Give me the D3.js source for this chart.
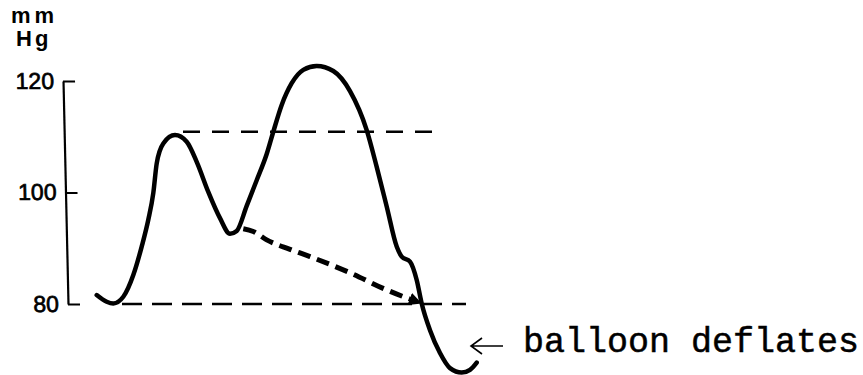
<!DOCTYPE html>
<html>
<head>
<meta charset="utf-8">
<script src="https://cdn.jsdelivr.net/npm/d3@7"></script>
<style>
  body { margin: 0; background: #fff; }
</style>
</head>
<body>
<script>
// data (t = arbitrary time units, p = mm Hg)
const yTicks = [80, 100, 120];

const pulseT = [16.7, 26.7, 33.3, 43.3, 53.3, 61.7, 68.3, 73.3, 76.7, 83.3, 95, 106.7, 116.7, 128.3, 140, 150,
                156.7, 166.7, 176.7, 186.7, 193.3, 201.7, 211.7, 223.3, 236.7, 253.3, 270, 286.7, 296.7, 306.7,
                316.7, 321.7, 330, 336.7, 341.7, 350, 360, 370, 381.7, 390, 396.7];
const pulseP = [81.6, 80.4, 80.1, 81.3, 85.2, 90.3, 95.1, 99.9, 105.2, 108.8, 110.3, 109.1, 105.5, 100.1, 95.4, 92.6,
                93.1, 97.6, 102.2, 106.9, 110.9, 115.7, 119.6, 122.0, 122.7, 121.8, 118.2, 111.2, 104.6, 97.5,
                90.3, 88.5, 87.6, 84.3, 80.1, 75.3, 71.2, 68.5, 67.7, 68.2, 69.5];

// pressure without the balloon (dashed projection)
const deflateT = [163.3, 173.3, 186.7, 210, 230, 270, 307, 337];
const deflateP = [93.5, 93.0, 91.5, 89.8, 88.5, 85.6, 82.5, 80.4];

// horizontal reference levels
const levelP = [110.9, 80];
const levelT0 = [103, 42];
const levelT1 = [352, 386];

const labelText = "balloon deflates";

// canvas
const canvWidth = 863, canvHeight = 375;
const svg = d3.select("body").append("svg")
    .attr("width", canvWidth)
    .attr("height", canvHeight);

const xScale = d3.scaleLinear()
    .domain([0, 400])
    .range([80, 480]);

const yScale = d3.scaleLinear()
    .domain([80, 120])
    .range([304, 81]);

// hand drawn axis leans a little, so skew the group
const yAxis = d3.axisLeft(yScale)
    .tickValues(yTicks)
    .tickSizeInner(-12)
    .tickSizeOuter(0)
    .tickPadding(9);

const axisG = svg.append("g")
    .attr("transform", "translate(61.2,0) skewX(1.28)")
    .call(yAxis);

axisG.select(".domain")
    .attr("stroke", "#000")
    .attr("stroke-width", 2.2);
axisG.selectAll(".tick line")
    .attr("stroke", "#000")
    .attr("stroke-width", 2.2);
axisG.selectAll(".tick text")
    .attr("font-family", "'Liberation Sans', Arial, sans-serif")
    .attr("font-size", "23px")
    .attr("fill", "#000")
    .attr("stroke", "#000")
    .attr("stroke-width", 0.7);

// unit label
svg.append("text")
    .attr("x", 11)
    .attr("y", 23)
    .attr("font-family", "'Liberation Sans', Arial, sans-serif")
    .attr("font-weight", "bold")
    .attr("font-size", "22px")
    .attr("letter-spacing", "4px")
    .text("mm");
svg.append("text")
    .attr("x", 16)
    .attr("y", 46)
    .attr("font-family", "'Liberation Sans', Arial, sans-serif")
    .attr("font-weight", "bold")
    .attr("font-size", "22px")
    .attr("letter-spacing", "3px")
    .text("Hg");

// reference dashed levels
const levels = levelP.map((p, i) => ({p: p, t0: levelT0[i], t1: levelT1[i]}));
svg.selectAll(".level")
    .data(levels)
    .join("line")
    .attr("class", "level")
    .attr("x1", d => xScale(d.t0))
    .attr("x2", d => xScale(d.t1))
    .attr("y1", d => yScale(d.p))
    .attr("y2", d => yScale(d.p))
    .attr("stroke", "#000")
    .attr("stroke-width", 2.6)
    .attr("stroke-dasharray", (d, i) => i == 0 ? "17,12" : "20,10");

// arrowhead for the projected line
svg.append("defs").append("marker")
    .attr("id", "tip")
    .attr("viewBox", "0 0 10 10")
    .attr("refX", 6)
    .attr("refY", 5)
    .attr("markerWidth", 2.6)
    .attr("markerHeight", 2.6)
    .attr("orient", "auto")
    .append("path")
    .attr("d", "M0,0 L10,5 L0,10 z")
    .attr("fill", "#000");

const line = d3.line()
    .x(d => xScale(d[0]))
    .y(d => yScale(d[1]))
    .curve(d3.curveMonotoneX);

svg.append("path")
    .datum(deflateT.map((t, i) => [t, deflateP[i]]))
    .attr("d", line)
    .attr("fill", "none")
    .attr("stroke", "#000")
    .attr("stroke-width", 5)
    .attr("stroke-dasharray", "13,7")
    .attr("marker-end", "url(#tip)");

// pressure trace
svg.append("path")
    .datum(pulseT.map((t, i) => [t, pulseP[i]]))
    .attr("d", line)
    .attr("fill", "none")
    .attr("stroke", "#000")
    .attr("stroke-width", 4.5)
    .attr("stroke-linecap", "round")
    .attr("stroke-linejoin", "round");

// annotation
const ann = svg.append("g");
ann.append("path")
    .attr("d", "M503,346 H471 M482,338 L471,346 L482,354")
    .attr("fill", "none")
    .attr("stroke", "#000")
    .attr("stroke-width", 1.6);
ann.append("text")
    .attr("x", 523)
    .attr("y", 352)
    .attr("font-family", "'Liberation Mono', 'Courier New', monospace")
    .attr("font-size", "35px")
    .attr("stroke", "#000")
    .attr("stroke-width", 0.5)
    .text(labelText);
</script>
</body>
</html>
